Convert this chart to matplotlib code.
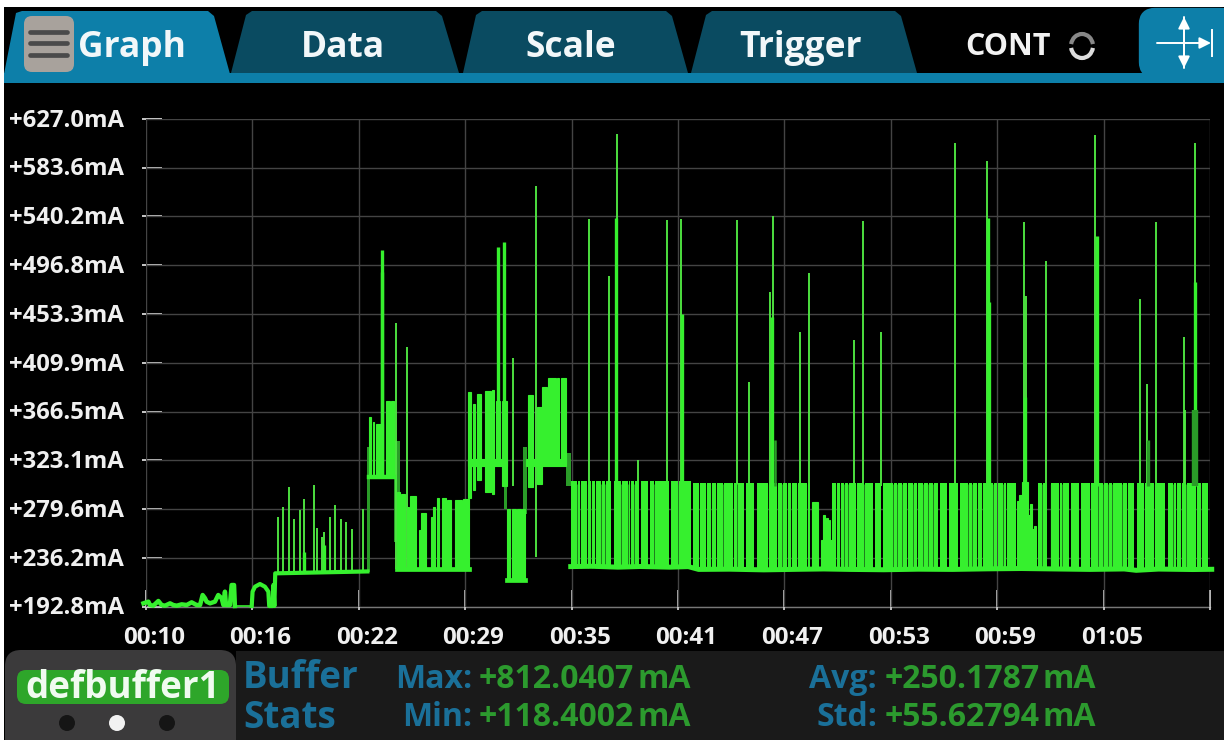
import matplotlib
matplotlib.use("Agg")
import matplotlib.pyplot as plt
from matplotlib.patches import Polygon, FancyBboxPatch, Rectangle, Circle, Arc
from matplotlib.transforms import blended_transform_factory as blend

plt.rcParams['font.family'] = ['Open Sans', 'DejaVu Sans']
plt.rcParams['font.weight'] = 'bold'

# ---------- axis labels ----------
y_ticks = [627.0, 583.6, 540.2, 496.8, 453.3, 409.9, 366.5, 323.1, 279.6, 236.2, 192.8]
y_labels = ['+627.0mA', '+583.6mA', '+540.2mA', '+496.8mA', '+453.3mA', '+409.9mA',
            '+366.5mA', '+323.1mA', '+279.6mA', '+236.2mA', '+192.8mA']
x_ticks = [10, 16.2, 22.4, 28.6, 34.8, 41, 47.2, 53.4, 59.6, 65.8, 72]
x_labels = ['00:10', '00:16', '00:22', '00:29', '00:35', '00:41', '00:47', '00:53', '00:59', '01:05', '']

# ---------- idle trace before the load starts (s, mA) ----------
idle_t = [9.85, 10.14, 10.23, 10.43, 10.72, 10.91, 11.11, 11.40, 11.59, 11.79, 12.08, 12.37, 12.66,
          12.95, 13.15, 13.30, 13.44, 13.53, 13.73, 14.02, 14.21, 14.41, 14.51, 14.60, 14.66, 14.89,
          14.99, 15.13, 15.18]
idle_i = [195.8, 197.3, 194.3, 193.7, 197.9, 194.3, 193.7, 195.8, 194.3, 193.7, 194.9, 194.3, 196.7,
          194.3, 194.3, 203.2, 200.3, 197.3, 195.8, 197.3, 203.2, 200.3, 194.3, 206.2, 194.3, 194.3,
          212.1, 212.1, 193.4]
flat_t = [15.18, 16.16]
flat_i = [193.4, 193.4]
bump_t = [16.16, 16.21, 16.35, 16.64, 16.93, 17.13, 17.18, 17.38, 17.42, 17.48, 17.53, 22.9]
bump_i = [193.4, 206.2, 210.6, 213.0, 210.6, 206.2, 193.4, 193.4, 212.1, 193.4, 222.5, 224.2]

# ---------- base level of the fast pulses ----------
base_t = [34.75, 36.0, 37.5, 38.8, 40.5, 41.6, 42.2, 44, 46, 48, 49.5, 51, 53, 55, 57, 59, 61, 63, 65,
          67, 67.7, 69, 71, 72.1]
base_i = [228.5, 228.8, 228.0, 228.6, 228.0, 228.5, 226.0, 226.2, 225.6, 226.1, 226.4, 226.0, 225.7,
          226.2, 226.0, 226.5, 226.8, 226.4, 226.0, 226.4, 225.2, 226.3, 225.9, 226.1]

# ---------- pulse trains: start, end, low, high ----------
train_start = [34.75, 41.90, 49.99, 61.99]
train_end = [41.76, 48.71, 60.67, 71.90]
train_low = [228.0, 226.0, 226.0, 226.0]
train_high = [304.5, 302.5, 302.5, 302.5]
narrow_drops = [35.13, 35.33, 35.74, 35.97, 36.20, 36.53, 36.75, 37.70, 38.10, 38.24, 38.44, 39.62, 39.95,
                41.02, 42.28, 42.67, 42.96, 43.25, 43.64, 44.26, 44.44, 46.07, 46.30, 46.80, 47.08,
                47.39, 47.62, 47.97, 48.56, 50.25, 50.48, 50.69, 50.93, 51.41, 51.84, 53.55, 53.78,
                54.07, 54.38, 54.71, 54.96, 55.29, 55.59, 55.88, 57.92, 58.15, 58.46, 58.75, 59.37,
                59.62, 59.95, 60.15, 62.22, 62.73, 63.25, 63.39, 65.06, 65.49, 65.78, 66.07, 66.30,
                66.89, 67.20, 68.21, 68.79, 69.86, 70.05, 70.34, 70.63, 71.22, 71.51]
wide_drops = [37.19, 38.78, 39.31, 40.53, 44.90, 45.52, 49.99, 52.40, 52.87, 56.21, 56.75, 57.39,
              62.59, 63.84, 64.42, 67.66, 69.47]

# ---------- individual slower blocks: start, end, low, high ----------
block_start = [22.99, 23.21, 23.40, 23.98, 24.30, 24.65, 24.86, 25.19, 25.36, 25.93, 26.04, 26.59, 26.72,
               26.98, 27.23, 27.52, 28.00, 28.49,
               28.78, 29.07, 29.27, 29.77, 30.16, 30.39, 30.72, 28.78,
               31.02, 31.31, 31.64, 31.93,
               32.28, 32.76, 33.09, 33.44, 33.97, 34.16, 32.12,
               48.83, 49.33, 49.47, 49.60, 49.78,
               60.73, 60.87, 61.02, 61.41, 61.51, 61.64, 61.76]
block_end = [23.11, 23.30, 23.83, 24.22, 24.47, 24.80, 25.09, 25.32, 25.71, 26.08, 26.32, 26.74, 26.86,
             27.09, 27.48, 27.75, 28.39, 28.82,
             28.92, 29.19, 29.50, 30.08, 30.26, 30.63, 31.02, 31.05,
             31.21, 31.56, 31.85, 32.08,
             32.57, 33.05, 33.34, 33.89, 34.08, 34.47, 34.47,
             49.18, 49.95, 49.55, 49.72, 49.86,
             60.87, 61.02, 61.41, 61.51, 61.64, 61.76, 61.89]
block_low = [308.3, 308.3, 308.3, 308.3, 308.3, 226.8, 226.8, 226.8, 226.8, 226.8, 226.8, 226.8, 226.8,
             226.8, 226.8, 226.8, 226.8, 226.8,
             290.0, 296.4, 305.3, 295.0, 293.5, 321.0, 300.0, 318.0,
             216.5, 216.5, 216.5, 216.5,
             299.4, 302.4, 320.0, 320.0, 320.0, 320.0, 318.0,
             226.0, 226.0, 226.0, 226.0, 226.0,
             226.0, 226.0, 226.0, 226.0, 226.0, 226.0, 226.0]
block_high = [361.6, 357.2, 355.7, 375.8, 375.8, 295.0, 293.5, 282.0, 291.0, 260.9, 276.3, 272.8, 281.4,
              290.0, 290.0, 288.0, 288.0, 289.0,
              383.8, 373.5, 382.4, 385.0, 385.3, 376.0, 376.0, 324.0,
              280.2, 280.2, 280.2, 280.2,
              380.9, 370.5, 388.3, 396.0, 396.0, 396.0, 324.0,
              286.1, 252.0, 274.3, 272.0, 270.0,
              287.0, 292.0, 304.0, 274.0, 284.0, 262.0, 265.0]

# ---------- darker transition blocks: start, end, low, high ----------
ramp_start = [22.85, 24.47, 30.86, 31.98, 34.47]
ramp_end = [23.05, 24.80, 31.05, 32.18, 34.75]
ramp_low = [224.0, 250.0, 280.0, 275.0, 300.0]
ramp_high = [335.0, 340.0, 335.0, 335.0, 330.0]

# ---------- spikes: time, top (base is separate) ----------
thin_t = [17.71, 18.00, 18.33, 18.61, 18.97, 19.22, 19.77, 19.95, 20.24, 20.39, 20.74, 21.03, 21.36, 21.64,
          21.99, 22.63, 24.57, 25.21, 31.37, 32.71,
          35.81, 36.97, 37.43, 38.66, 40.35, 41.16, 44.45, 45.16, 46.34, 46.51, 48.13, 48.64, 51.24, 51.76,
          52.83, 57.13, 58.99, 61.15, 61.30, 62.47, 65.32, 67.90, 68.34, 68.88, 70.50, 70.57, 71.11]
thin_top = [272.8, 281.6, 299.4, 271.3, 279.3, 288.5, 300.9, 262.5, 255.0, 258.9, 272.8, 283.2, 270.7, 268.3,
            261.6, 280.2, 445.1, 423.8, 414.0, 567.5,
            538.4, 487.5, 613.9, 323.8, 537.0, 538.4, 537.0, 392.7, 472.7, 540.2, 437.1, 489.9, 430.4, 536.4,
            437.1, 606.0, 589.7, 534.9, 469.7, 500.8, 612.8, 466.8, 390.7, 534.9, 432.7, 367.6, 606.0]
thin_bottom = [224, 224, 224, 224, 224, 224, 224, 224, 224, 224, 224, 224, 224, 224,
               224, 224, 226, 226, 300, 237,
               300, 300, 300, 300, 300, 300, 300, 300, 300, 300, 300, 300, 300, 300,
               300, 300, 300, 300, 300, 300, 300, 300, 300, 300, 300, 300, 300]
thick_t = [19.21, 20.39, 23.77, 23.74, 30.51, 30.84, 37.36, 41.23, 46.46, 59.04, 59.12, 61.22, 65.39, 71.13]
thick_top = [241.7, 247.6, 510.6, 490.4, 513.3, 517.1, 539.3, 453.8, 450.5, 539.3, 463.8, 379.4, 523.1, 481.6]
thick_bottom = [224, 224, 308, 308, 320, 320, 300, 300, 300, 300, 300, 300, 300, 300]
dark_t = [46.63, 68.36, 71.11]
dark_top = [340.9, 340.9, 367.6]

# ---------- buffer statistics ----------
buffer_name = 'defbuffer1'
stat_names = ['Max:', 'Min:', 'Avg:', 'Std:']
stat_values = ['+812.0407', '+118.4002', '+250.1787', '+55.62794']
tab_names = ['Graph', 'Data', 'Scale', 'Trigger']

GREEN = '#36f02e'
THIN = '#4fe842'
DARK = '#2a9c28'
DROP = '#1f7f1e'
GRID = '#444444'
TICK = '#c8c8c8'
TEAL = '#1a7099'
VAL = '#2c9a2e'

fig = plt.figure(figsize=(12.24, 7.40), dpi=100, facecolor='white')
ui = fig.add_axes([0, 0, 1, 1], zorder=0)
ui.set_xlim(0, 1224)
ui.set_ylim(740, 0)
ui.axis('off')

# interface chrome
ui.add_patch(Rectangle((4, 7), 1220, 733, color='black', lw=0))
ui.add_patch(Rectangle((4, 73), 1220, 10, color='#0d7fa9', lw=0))
dark_tab = '#0a4b61'
ui.add_patch(Polygon([(4, 74), (16, 13), (22, 11), (208, 11), (214, 16), (230, 74)], color='#0d7fa9', lw=0))
ui.add_patch(Polygon([(231, 73), (246, 15), (252, 11), (436, 11), (442, 16), (459, 73)], color=dark_tab, lw=0))
ui.add_patch(Polygon([(463, 73), (476, 15), (482, 11), (666, 11), (672, 16), (688, 73)], color=dark_tab, lw=0))
ui.add_patch(Polygon([(691, 73), (706, 15), (712, 11), (895, 11), (901, 16), (917, 73)], color=dark_tab, lw=0))
ui.add_patch(FancyBboxPatch((1143, 12), 90, 62, boxstyle='round,pad=0,rounding_size=12', color='#0d7fa9', lw=6))
ui.add_patch(FancyBboxPatch((24, 16), 50, 56, boxstyle='round,pad=0,rounding_size=8', color='#a8a29c', lw=0))
for yy in (32, 43, 55):
    ui.plot([30, 67], [yy, yy], color='#4a4a4a', lw=3.4, solid_capstyle='round')
for name, cx in zip(tab_names, [132, 343, 571, 801]):
    ui.text(cx, 48, name, color='#f2f7f9', fontsize=25.5, ha='center', va='center')
ui.text(1008, 47, 'CONT', color='#f2f2f2', fontsize=22, ha='center', va='center')
ui.add_patch(Arc((1082, 46), 22, 24, theta1=190, theta2=350, color='#888888', lw=3))
ui.add_patch(Arc((1082, 46), 22, 24, theta1=10, theta2=170, color='#dddddd', lw=3))
for a, b in [((1184, 68), (1184, 17)), ((1184, 17), (1184, 68)), ((1157, 43), (1211, 43))]:
    ui.annotate('', xy=b, xytext=a, arrowprops=dict(arrowstyle='-|>', color='white', lw=1.4, mutation_scale=17, shrinkA=0, shrinkB=0))
ui.plot([1212, 1212], [30, 56], color='white', lw=1.4)

# bottom panel
ui.add_patch(Rectangle((236, 651), 988, 89, color='#1a1a1a', lw=0))
ui.add_patch(FancyBboxPatch((5, 650), 231, 110, boxstyle='round,pad=0,rounding_size=16', color='#3b3a3b', lw=0))
ui.add_patch(FancyBboxPatch((17, 670), 212, 34, boxstyle='round,pad=0,rounding_size=9', color='#2ea62a', lw=0))
ui.text(123, 688, buffer_name, color='#f0fbf0', fontsize=26.5, ha='center', va='center')
for cx, col in zip([67, 117, 167], ['#151515', '#f2f2f2', '#151515']):
    ui.add_patch(Circle((cx, 723), 8, color=col, lw=0))
ui.text(243, 678, 'Buffer', color=TEAL, fontsize=26.5, ha='left', va='center')
ui.text(243, 718, 'Stats', color=TEAL, fontsize=26.5, ha='left', va='center')
for name, val, xr, xv, yy in zip(stat_names, stat_values, [472, 472, 877, 877], [479, 479, 885, 885], [679, 718, 679, 718]):
    ui.text(xr, yy, name, color=TEAL, fontsize=23, ha='right', va='center')
    t = ui.text(xv, yy, val, color=VAL, fontsize=23, ha='left', va='center')
    ui.annotate('mA', xy=(1, 0), xycoords=t, xytext=(2, 0), textcoords='offset points', color=VAL, fontsize=23, ha='left', va='bottom')

# plot area
ax = fig.add_axes([146 / 1224, 1 - 606.7 / 740, (1210 - 146) / 1224, (606.7 - 119) / 740], zorder=1)
ax.patch.set_alpha(0)
ax.set_xlim(10, 72)
ax.set_ylim(192.8, 627.0)
for s in ax.spines.values():
    s.set_visible(False)
ax.set_xticks(x_ticks)
ax.set_yticks(y_ticks)
ax.tick_params(length=0, labelleft=False, labelbottom=False)
ax.grid(True, color=GRID, lw=1.0, zorder=0)
ax.axhline(192.8, color='#777777', lw=1.0, zorder=0, clip_on=False)

ytr = blend(ui.transData, ax.transData)
xtr = blend(ax.transData, ui.transData)
ax.hlines(y_ticks, 142, 162, transform=ytr, color=TICK, lw=1.4, clip_on=False, zorder=1)
ax.vlines(x_ticks, 590, 610, transform=xtr, color=TICK, lw=1.3, clip_on=False, zorder=1)
for v, lab in zip(y_ticks, y_labels):
    ax.annotate(lab, xy=(124, v), xycoords=ytr, xytext=(0, -1.2), textcoords='offset points',
                color='#f0f0f0', fontsize=17.2, ha='right', va='center', annotation_clip=False)
for v, lab in zip(x_ticks, x_labels):
    ax.annotate(lab, xy=(v, 638), xycoords=xtr, xytext=(5.8, 0), textcoords='offset points',
                color='#f0f0f0', fontsize=17.4, ha='center', va='center', annotation_clip=False)

# pulse trains cut into blocks at the drops
NARROW_W, WIDE_W = 0.055, 0.13
drops = sorted([(t, NARROW_W) for t in narrow_drops] + [(t, WIDE_W) for t in wide_drops])
for start, end, low, high in zip(train_start, train_end, train_low, train_high):
    cur = start
    for t, w in drops:
        if start < t < end:
            ax.bar(cur, high - low, t - w / 2 - cur, low, align='edge', color=GREEN, lw=0, zorder=3)
            cur = t + w / 2
    ax.bar(cur, high - low, end - cur, low, align='edge', color=GREEN, lw=0, zorder=3)
ax.vlines(narrow_drops, 227, 302, color=DROP, lw=1.0, zorder=2.7)

ax.bar(block_start, [h - l for h, l in zip(block_high, block_low)],
       [e - s for e, s in zip(block_end, block_start)], block_low, align='edge',
       color=GREEN, edgecolor=GREEN, lw=0.8, zorder=3)
ax.bar(ramp_start, [h - l for h, l in zip(ramp_high, ramp_low)],
       [e - s for e, s in zip(ramp_end, ramp_start)], ramp_low, align='edge', color=DARK, lw=0, zorder=2.5)

ax.vlines(thin_t, thin_bottom, thin_top, color=THIN, lw=1.35, zorder=2.6)
ax.vlines(thick_t, thick_bottom, thick_top, color=GREEN, lw=2.4, zorder=3)
ax.vlines(dark_t, 300, dark_top, color=DARK, lw=[1.8, 2.4, 4.6], zorder=3.1)

ax.plot(idle_t, idle_i, color=GREEN, lw=3.2, zorder=3.5, clip_on=False)
ax.plot(flat_t, flat_i, color=GREEN, lw=1.2, zorder=3.5, clip_on=False)
ax.plot(bump_t, bump_i, color=GREEN, lw=3.0, zorder=3.5, clip_on=False)
ax.plot(base_t, base_i, color=GREEN, lw=3.6, zorder=3.5, clip_on=False)
ax.plot([22.99, 24.47], [308.3, 308.3], color=GREEN, lw=3.2, zorder=3.5)
ax.plot([24.65, 28.82], [226.8, 226.8], color=GREEN, lw=3.4, zorder=3.5)
ax.plot([31.02, 32.08], [216.5, 216.5], color=GREEN, lw=3.4, zorder=3.5)

fig.savefig('out.png', dpi=100, facecolor='white')
